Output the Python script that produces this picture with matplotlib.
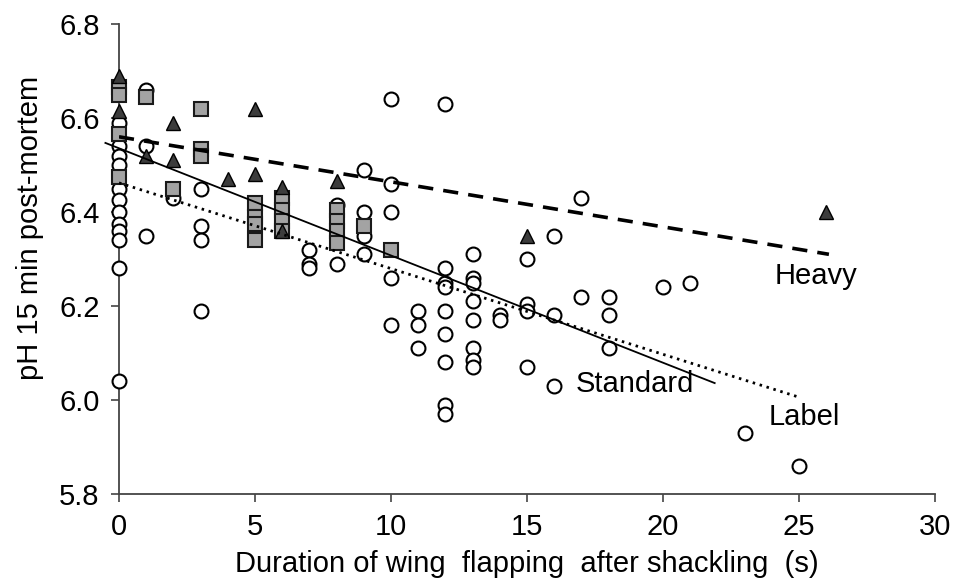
import matplotlib
matplotlib.use("Agg")
import matplotlib.pyplot as plt
import numpy as np

plt.rcParams['font.family'] = ['Liberation Sans', 'DejaVu Sans']

# Standard (open circles)
std_x = [0]*12 + [1]*3 + [2] + [3]*4 + [7]*3 + [8]*2 + [9]*4 + [10]*5 + [11]*3 + [12]*9 + [13]*8 + [14]*2 + [15]*4 + [16]*3 + [17]*2 + [18]*3 + [20, 21, 23, 25]
std_y = [6.59, 6.54, 6.52, 6.50, 6.45, 6.425, 6.40, 6.375, 6.36, 6.34, 6.28, 6.04,
         6.66, 6.54, 6.35,
         6.43,
         6.45, 6.37, 6.34, 6.19,
         6.32, 6.29, 6.28,
         6.415, 6.29,
         6.49, 6.40, 6.35, 6.31,
         6.64, 6.46, 6.40, 6.26, 6.16,
         6.19, 6.16, 6.11,
         6.63, 6.28, 6.25, 6.24, 6.19, 6.14, 6.08, 5.99, 5.97,
         6.31, 6.26, 6.25, 6.21, 6.17, 6.11, 6.085, 6.07,
         6.18, 6.17,
         6.30, 6.205, 6.19, 6.07,
         6.35, 6.18, 6.03,
         6.43, 6.22,
         6.22, 6.18, 6.11,
         6.24, 6.25, 5.93, 5.86]

# Label (grey squares)
lab_x = [0]*4 + [1] + [2] + [3]*3 + [5]*4 + [6]*4 + [8]*4 + [9, 10]
lab_y = [6.665, 6.65, 6.565, 6.475,
         6.645,
         6.45,
         6.62, 6.535, 6.52,
         6.42, 6.39, 6.375, 6.34,
         6.43, 6.405, 6.38, 6.36,
         6.405, 6.38, 6.36, 6.335,
         6.37, 6.32]

# Heavy (dark triangles)
hev_x = [0, 0, 1, 2, 2, 4, 5, 5, 6, 6, 8, 15, 26]
hev_y = [6.69, 6.615, 6.52, 6.59, 6.51, 6.47, 6.62, 6.48, 6.453, 6.36, 6.465, 6.35, 6.40]

# Regression lines (x range, y at ends)
std_line_x = [-0.5, 21.9]
std_line_y = [6.547, 6.036]
lab_line_x = [0, 25]
lab_line_y = [6.462, 6.006]
hev_line_x = [0, 26.1]
hev_line_y = [6.56, 6.31]

FS = 21

fig = plt.figure(figsize=(9.57, 5.85), dpi=100)
ax = fig.add_axes([119/957, 1-494/585, (935-119)/957, (494-24)/585])

ax.plot(std_x, std_y, 'o', ms=10, mfc='white', mec='black', mew=1.5, zorder=3, clip_on=False)
ax.plot(lab_x, lab_y, 's', ms=10, mfc='#a3a3a3', mec='#1a1a1a', mew=1.5, zorder=4, clip_on=False)
ax.plot(hev_x, hev_y, '^', ms=10.5, mfc='#3c3c3c', mec='black', mew=1.0, zorder=5, clip_on=False)

ax.plot(std_line_x, std_line_y, '-', color='black', lw=1.3, zorder=6, clip_on=False)
ax.plot(lab_line_x, lab_line_y, color='black', lw=2.0, ls=(0, (0.9, 1.7)), zorder=6)
ax.plot(hev_line_x, hev_line_y, color='black', lw=2.6, ls=(0, (4.2, 2.8)), zorder=6)

ax.text(24.1, 6.264, 'Heavy', fontsize=FS, ha='left', va='center')
ax.text(16.8, 6.034, 'Standard', fontsize=FS, ha='left', va='center')
ax.text(23.9, 5.964, 'Label', fontsize=FS, ha='left', va='center')

ax.set_xlim(0, 30)
ax.set_ylim(5.8, 6.8)
ax.set_xticks(np.arange(0, 31, 5))
ax.set_yticks([5.8, 6.0, 6.2, 6.4, 6.6, 6.8])
ax.set_yticklabels(['5.8', '6.0', '6.2', '6.4', '6.6', '6.8'])
for s in ['top', 'right']:
    ax.spines[s].set_visible(False)
for s in ['left', 'bottom']:
    ax.spines[s].set_color('#444444')
    ax.spines[s].set_linewidth(1.3)
ax.tick_params(axis='both', direction='out', length=6, width=1.2, color='#444444', labelsize=FS, pad=8)
ax.set_xlabel('Duration of wing  flapping  after shackling  (s)', fontsize=FS, labelpad=6)
ax.set_ylabel('pH 15 min post-mortem', fontsize=FS)
ax.yaxis.label.set_va('center')
ax.yaxis.set_label_coords(-0.109, 0.566)

fig.savefig('out.png', dpi=100)
